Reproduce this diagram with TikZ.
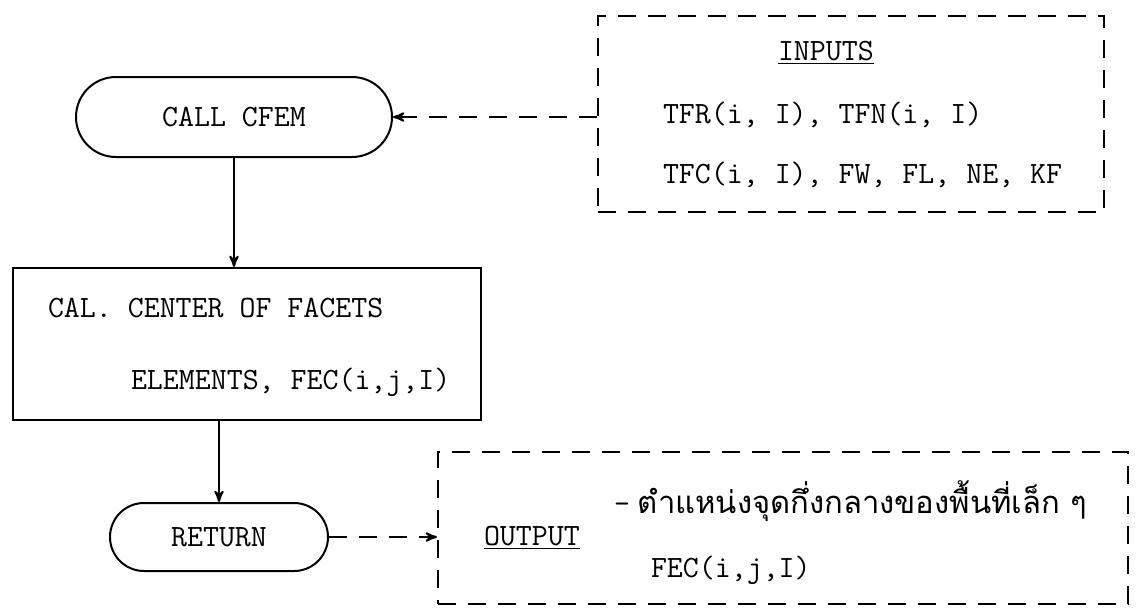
\documentclass[tikz,border=0pt]{standalone}
\usepackage{fontspec}
\newfontfamily\thaifont[Script=Thai]{Loma}
\usepackage{tikz}
\usetikzlibrary{arrows,shapes.misc,positioning}

\begin{document}
\begin{tikzpicture}[->,>=stealth',line width=1pt,x=0.5pt,y=-0.5pt,
    font=\ttfamily\fontsize{15.5}{19}\selectfont]

    \tikzstyle{term}=[rounded rectangle,draw=black,text=black,inner sep=0pt]
    \tikzstyle{proc}=[rectangle,draw=black,inner sep=0pt]
    \tikzstyle{data}=[rectangle,draw=black,inner sep=0pt,dash pattern=on 9pt off 6pt]
    \tikzstyle{txt}=[anchor=west,inner sep=0pt]
    \tikzstyle{dataline}=[dash pattern=on 9pt off 6pt]

    \useasboundingbox (0,0) rectangle (1136,612);

    % flow chart
    \node[term,minimum width=158pt,minimum height=40pt] (call) at (234,117) {CALL CFEM};
    \node[proc,minimum width=234pt,minimum height=76pt] (cal)  at (247,344) {};
    \node[term,minimum width=109pt,minimum height=34pt] (ret)  at (219,537) {RETURN};

    % data boxes
    \node[data,minimum width=253pt,minimum height=98pt] (inputs) at (851,114) {};
    \node[data,minimum width=345pt,minimum height=76pt] (output) at (783,528) {};

    % texts
    \node[txt] (cal1) at (47,308)  {CAL. CENTER OF FACETS};
    \node[txt] (cal2) at (130,382) {ELEMENTS, FEC(i,j,I)};

    \node[txt] (intitle) at (777,53)  {\underline{INPUTS}};
    \node[txt] (in1)     at (662,115) {TFR(i, I), TFN(i, I)};
    \node[txt] (in2)     at (662,175) {TFC(i, I), FW, FL, NE, KF};

    \node[txt] (outtitle) at (483,538) {\underline{OUTPUT}};
    \node[txt] (out1)     at (613,501) {–\hspace{4pt}{\thaifont\fontsize{15.5}{19}\selectfont ตำแหน่งจุดกึ่งกลางของพื้นที่เล็ก ๆ}};
    \node[txt] (out2)     at (650,570) {FEC(i,j,I)};

    \path
    (call.south)                edge                (call.south |- cal.north)
    (cal.south -| ret.north)    edge                (ret.north)
    (inputs.west |- call.east)  edge[dataline]      (call.east)
    (ret.east)                  edge[dataline]      (ret.east -| output.west)
    ;
\end{tikzpicture}
\end{document}
